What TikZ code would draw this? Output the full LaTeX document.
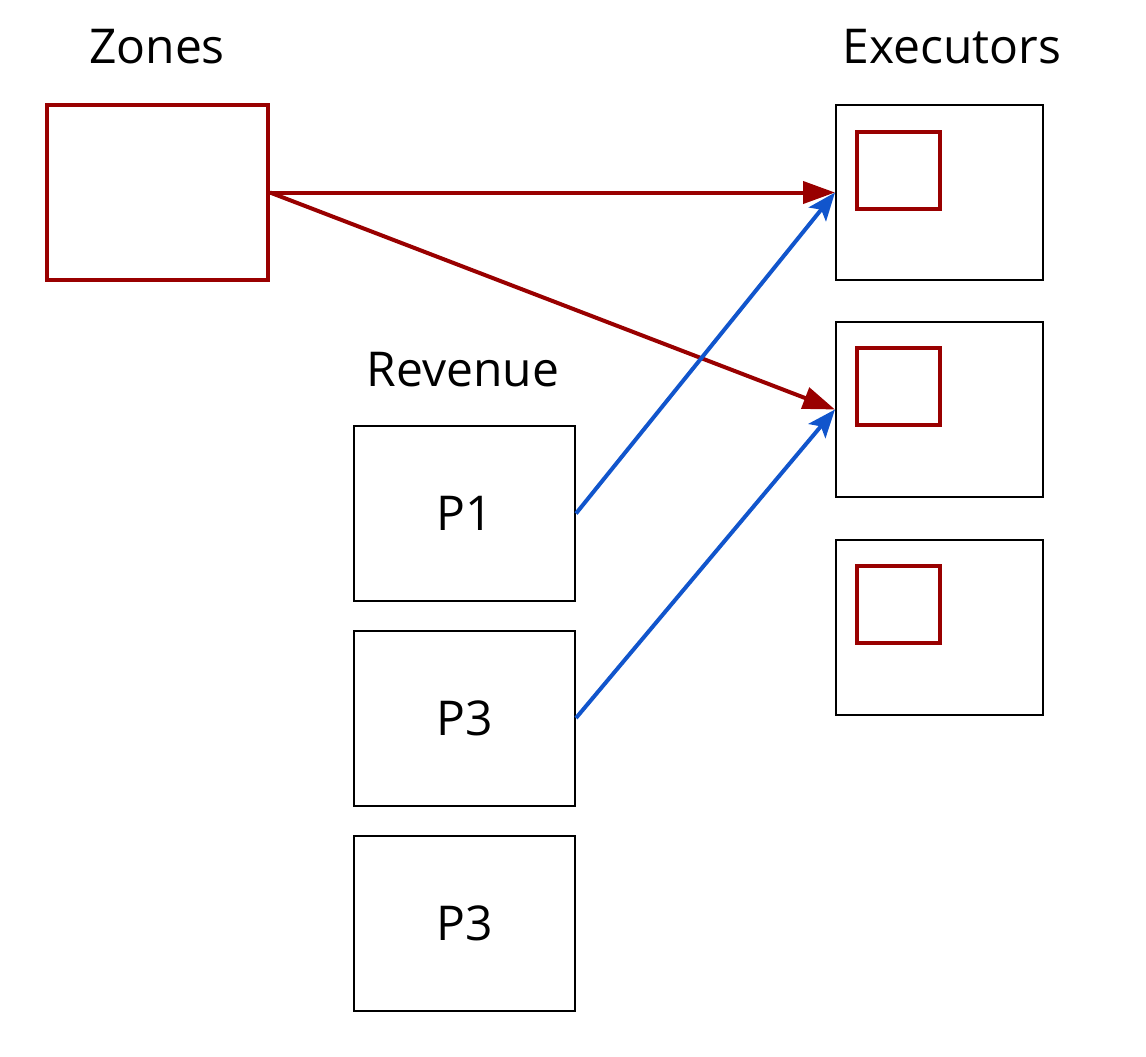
\documentclass[tikz,border=0pt]{standalone}
\usepackage{fontspec}
\setmainfont{Open Sans}
\usetikzlibrary{arrows.meta}
\definecolor{zonered}{HTML}{990000}
\definecolor{revblue}{HTML}{1155CC}
\begin{document}
\begin{tikzpicture}[x=0.5pt,y=-0.5pt,font=\fontsize{24}{28}\selectfont]
        \useasboundingbox (0,0) rectangle (1146,1056);
        % labels
        \node (zl) at (157,47) {Zones};
        \node (el) at (952,47) {Executors};
        \node (rl) at (463,370) {Revenue};
        \begin{scope}[every node/.style={rectangle,draw=zonered,line width=2pt,minimum width=110.5pt,minimum height=87.5pt}]
        \node (z) at (157.5,192.5) {};
        \end{scope}
        \begin{scope}[every node/.style={rectangle,draw=black,line width=1pt,minimum width=103.5pt,minimum height=87.5pt}]
        \node (e1) at (939.5,192.5) {};
        \node (e2) at (939.5,409.5) {};
        \node (e3) at (939.5,627) {};
        \end{scope}
        \begin{scope}[every node/.style={rectangle,draw=zonered,line width=2pt,minimum width=41.5pt,minimum height=38.5pt}]
        \node (t1) at (898.5,170) {};
        \node (t2) at (898.5,386.5) {};
        \node (t3) at (898.5,604) {};
        \end{scope}
        \begin{scope}[every node/.style={rectangle,draw=black,line width=1pt,minimum width=110.5pt,minimum height=87.5pt}]
        \node (p1) at (464.5,513.5) {P1};
        \node (p3) at (464.5,718) {P3};
        \node (p4) at (464.5,923.5) {P3};
        \end{scope}
        \begin{scope}[every edge/.style={draw=zonered,line width=2pt,-{Triangle[length=16pt,width=11pt]}}]
        \path (z.east) edge (e1.west);
        \path (z.east) edge (e2.west);
        \end{scope}
        \begin{scope}[every edge/.style={draw=revblue,line width=2pt,-{Stealth[length=14pt,width=11pt,inset=3pt]}}]
        \path (p1.east) edge (e1.west);
        \path (p3.east) edge (e2.west);
        \end{scope}
        \end{tikzpicture}
\end{document}
